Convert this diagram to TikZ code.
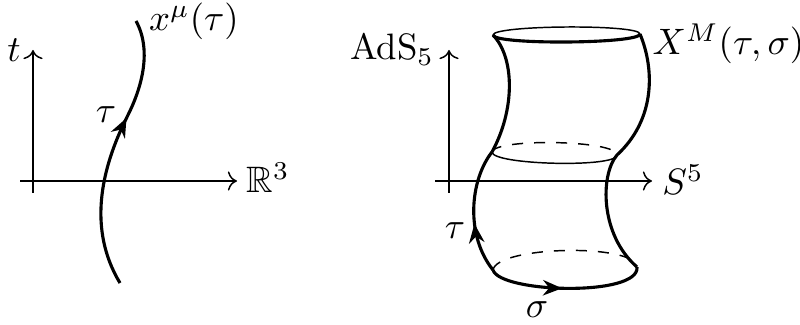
\documentclass[tikz,border=0pt]{standalone}
\usepackage{amssymb}
\usetikzlibrary{arrows.meta,decorations.markings}
\begin{document}
\begin{tikzpicture}[x=0.272pt,y=-0.272pt,
  axis/.style={line width=0.4pt,->},
  curve/.style={line width=0.85pt},
  thinline/.style={line width=0.4pt},
  backline/.style={line width=0.4pt,dashed},
  lbl/.style={inner sep=0pt,anchor=base},
  arrowmark/.style={postaction={decorate},decoration={markings,
    mark=at position #1 with {\arrow{Stealth[length=5.2pt,width=4.2pt]}}}}]
\useasboundingbox (0,0) rectangle (800,325);
% ---------- left diagram ----------
\coordinate (lo) at (33,181);
\coordinate (ltop) at (33,50);
\coordinate (lbot) at (33,193);
\coordinate (lleft) at (20,181);
\coordinate (lright) at (237,181);
\draw[axis] (lbot) -- (ltop);
\draw[axis] (lleft) -- (lright);
\coordinate (wA) at (120,283);
\coordinate (wB) at (128,115);
\coordinate (wC) at (136,21);
\draw[curve,arrowmark=0.63] (wA) .. controls (88,230) and (100,170) .. (wB)
  .. controls (142,87) and (152,50) .. (wC);
\node[lbl] (tlab) at (14,62) {$t$};
\node[lbl] (r3) at (268,193) {$\mathbb{R}^3$};
\node[lbl] (xmu) at (194,31) {$x^\mu(\tau)$};
\node[lbl] (tau1) at (106,123) {$\tau$};
% ---------- right diagram ----------
\coordinate (rtop) at (449,50);
\coordinate (rbot) at (449,193);
\coordinate (rleft) at (435,181);
\coordinate (rright) at (652,181);
\draw[axis] (rbot) -- (rtop);
\draw[axis] (rleft) -- (rright);
\coordinate (TL) at (493,35);
\coordinate (TR) at (640,34);
\coordinate (ML) at (492,152);
\coordinate (MR) at (617,155);
\coordinate (BL) at (493,270);
\coordinate (BR) at (637,267);
% top ellipse
\draw[thinline] (TL) .. controls (493,25) and (640,24) .. (TR);
\draw[curve] (TL) .. controls (493,45) and (640,44) .. (TR);
% sides
\draw[curve] (TL) .. controls (515,58) and (515,110) .. (ML);
\draw[curve,arrowmark=0.4] (BL) .. controls (465,235) and (470,180) .. (ML);
\draw[curve] (TR) .. controls (655,70) and (655,120) .. (MR)
  .. controls (600,175) and (600,235) .. (BR);
% middle ellipse
\draw[backline] (ML) .. controls (495,138) and (617,140) .. (MR);
\draw[thinline] (ML) .. controls (492,165) and (617,168) .. (MR);
% bottom ellipse
\draw[backline] (BL) .. controls (497,246) and (635,243) .. (BR);
\draw[curve,arrowmark=0.47] (BL) .. controls (500,293) and (640,297) .. (BR);
% labels
\node[lbl] (ads) at (392,60) {AdS$_5$};
\node[lbl] (s5) at (683,195) {$S^5$};
\node[lbl,anchor=base west] (XM) at (652,55) {$X^M(\tau,\sigma)$};
\node[lbl] (tau2) at (455,239) {$\tau$};
\node[lbl] (sig) at (537,318) {$\sigma$};
\end{tikzpicture}
\end{document}
